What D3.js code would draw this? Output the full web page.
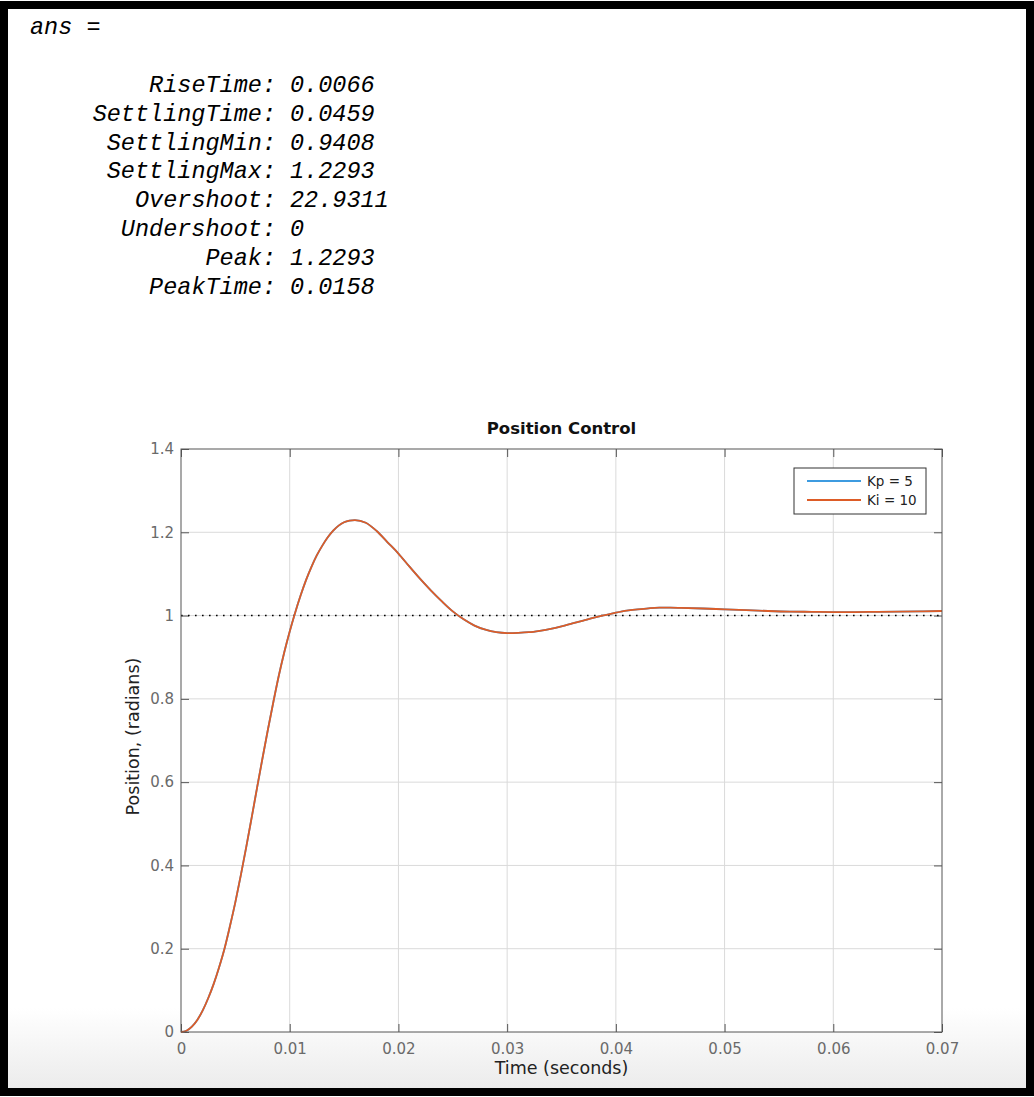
<!DOCTYPE html>
<html>
<head>
<meta charset="UTF-8">
<title>Position Control</title>
<script src="https://d3js.org/d3.v7.min.js"></script>
<style>
  body { margin: 0; background: #fff; }
  svg { display: block; }
</style>
</head>
<body>
<div id="chart"></div>
<script>
// step info printed above the plot
const infoNames = ["RiseTime", "SettlingTime", "SettlingMin", "SettlingMax",
                   "Overshoot", "Undershoot", "Peak", "PeakTime"];
const infoValues = ["0.0066", "0.0459", "0.9408", "1.2293",
                    "22.9311", "0", "1.2293", "0.0158"];

// step response
const time = [0, 0.0005, 0.001, 0.0015, 0.002, 0.0025, 0.003, 0.0035, 0.004, 0.0045,
  0.005, 0.0055, 0.006, 0.0065, 0.007, 0.0075, 0.008, 0.0085, 0.009, 0.0095,
  0.01, 0.0105, 0.011, 0.0115, 0.012, 0.0125, 0.013, 0.0135, 0.014, 0.0145,
  0.015, 0.0155, 0.016, 0.017, 0.018, 0.019, 0.02, 0.021, 0.022, 0.023,
  0.024, 0.025, 0.026, 0.027, 0.028, 0.029, 0.03, 0.031, 0.032, 0.033,
  0.034, 0.035, 0.036, 0.037, 0.038, 0.039, 0.04, 0.041, 0.042, 0.043,
  0.044, 0.045, 0.046, 0.048, 0.05, 0.052, 0.054, 0.056, 0.058, 0.06,
  0.062, 0.064, 0.066, 0.068, 0.07];
const position = [0, 0.003, 0.013, 0.029, 0.052, 0.081, 0.115, 0.155, 0.2, 0.254,
  0.312, 0.376, 0.444, 0.515, 0.587, 0.658, 0.727, 0.793, 0.856, 0.912,
  0.962, 1.007, 1.048, 1.085, 1.117, 1.145, 1.168, 1.188, 1.204, 1.216,
  1.224, 1.228, 1.2293, 1.223, 1.203, 1.176, 1.149, 1.118, 1.088, 1.06,
  1.034, 1.01, 0.991, 0.976, 0.966, 0.96, 0.958, 0.9585, 0.96, 0.9635,
  0.968, 0.974, 0.981, 0.988, 0.995, 1.001, 1.007, 1.012, 1.015, 1.0175,
  1.019, 1.019, 1.0185, 1.017, 1.015, 1.013, 1.011, 1.0095, 1.009, 1.0085,
  1.0085, 1.009, 1.0095, 1.01, 1.011];

const seriesNames = ["Kp = 5", "Ki = 10"];
const seriesColors = ["#3d9be0", "#dd5c27"];
const reference = 1;

const xTicks = [0, 0.01, 0.02, 0.03, 0.04, 0.05, 0.06, 0.07];
const yTicks = [0, 0.2, 0.4, 0.6, 0.8, 1, 1.2, 1.4];

const width = 1034, height = 1097;
const margin = { left: 181, right: 92, top: 449, bottom: 65 };
const innerW = width - margin.left - margin.right;
const innerH = height - margin.top - margin.bottom;

const svg = d3.select("#chart").append("svg")
  .attr("width", width)
  .attr("height", height);

// background: white page with faint grey band at the bottom
const defs = svg.append("defs");
const grad = defs.append("linearGradient").attr("id", "fade")
  .attr("x1", 0).attr("y1", 0).attr("x2", 0).attr("y2", 1);
grad.append("stop").attr("offset", 0).attr("stop-color", "#ffffff");
grad.append("stop").attr("offset", 1).attr("stop-color", "#ebebeb");

svg.append("rect").attr("width", width).attr("height", height).attr("fill", "#fff");
svg.append("rect").attr("x", 0).attr("y", 1008).attr("width", width).attr("height", 82)
  .attr("fill", "url(#fade)");

// black frame
svg.append("rect")
  .attr("x", 4).attr("y", 5).attr("width", 1026).attr("height", 1087)
  .attr("fill", "none").attr("stroke", "#000").attr("stroke-width", 8);

// console text
const mono = "'Liberation Mono', 'DejaVu Sans Mono', monospace";
svg.append("text")
  .attr("x", 30).attr("y", 34)
  .attr("font-family", mono).attr("font-style", "italic").attr("font-size", 23.5)
  .text("ans =");

const info = svg.append("g")
  .attr("font-family", mono).attr("font-style", "italic").attr("font-size", 23.5)
  .attr("fill", "#000");
infoNames.forEach((name, i) => {
  const y = 92 + i * 28.8;
  info.append("text").attr("x", 276).attr("y", y).attr("text-anchor", "end").text(name + ":");
  info.append("text").attr("x", 290).attr("y", y).text(infoValues[i]);
});

// plot
const x = d3.scaleLinear().domain([0, 0.07]).range([0, innerW]);
const y = d3.scaleLinear().domain([0, 1.4]).range([innerH, 0]);
const fmt = d => String(+d.toFixed(2));

const g = svg.append("g").attr("transform", `translate(${margin.left},${margin.top})`);

g.append("rect").attr("width", innerW).attr("height", innerH).attr("fill", "#fff");

// grid
g.append("g").selectAll("line").data(xTicks.slice(1, -1)).join("line")
  .attr("x1", d => x(d)).attr("x2", d => x(d))
  .attr("y1", 0).attr("y2", innerH)
  .attr("stroke", "#dadada").attr("stroke-width", 1);
g.append("g").selectAll("line").data(yTicks.slice(1, -1)).join("line")
  .attr("y1", d => y(d)).attr("y2", d => y(d))
  .attr("x1", 0).attr("x2", innerW)
  .attr("stroke", "#dadada").attr("stroke-width", 1);

// axes with inward ticks
const axisColor = "#555";
const sans = "'DejaVu Sans', 'Liberation Sans', sans-serif";

function styleAxis(sel) {
  sel.select(".domain").remove();
  sel.selectAll(".tick line").attr("stroke", axisColor);
  sel.selectAll(".tick text")
    .attr("fill", "#6a6a6a").attr("font-size", 15).attr("font-family", sans);
}

g.append("g").attr("transform", `translate(0,${innerH})`)
  .call(d3.axisBottom(x).tickValues(xTicks).tickFormat(fmt).tickSizeInner(-8).tickSizeOuter(0).tickPadding(11))
  .call(styleAxis);
g.append("g")
  .call(d3.axisTop(x).tickValues(xTicks).tickFormat("").tickSizeInner(-8).tickSizeOuter(0))
  .call(styleAxis);
g.append("g")
  .call(d3.axisLeft(y).tickValues(yTicks).tickFormat(fmt).tickSizeInner(-8).tickSizeOuter(0).tickPadding(7))
  .call(styleAxis);
g.append("g").attr("transform", `translate(${innerW},0)`)
  .call(d3.axisRight(y).tickValues(yTicks).tickFormat("").tickSizeInner(-8).tickSizeOuter(0))
  .call(styleAxis);

// reference line at 1
g.append("line")
  .attr("x1", x(0)).attr("x2", x(0.07))
  .attr("y1", y(reference)).attr("y2", y(reference))
  .attr("stroke", "#000").attr("stroke-width", 1.6)
  .attr("stroke-dasharray", "1.6,5.4");

// curves (both series overlap, Ki drawn on top)
const pts = time.map((t, i) => [t, position[i]]);
const line = d3.line().x(d => x(d[0])).y(d => y(d[1])).curve(d3.curveMonotoneX);
seriesColors.forEach(c => {
  g.append("path").datum(pts)
    .attr("d", line)
    .attr("fill", "none")
    .attr("stroke", c)
    .attr("stroke-width", 1.8);
});

// box
g.append("rect").attr("width", innerW).attr("height", innerH)
  .attr("fill", "none").attr("stroke", axisColor).attr("stroke-width", 1);

// title and labels
g.append("text")
  .attr("x", innerW / 2).attr("y", -15)
  .attr("text-anchor", "middle")
  .attr("font-family", sans).attr("font-weight", "bold").attr("font-size", 16.5)
  .attr("fill", "#111")
  .text("Position Control");

g.append("text")
  .attr("x", innerW / 2).attr("y", innerH + 42)
  .attr("text-anchor", "middle")
  .attr("font-family", sans).attr("font-size", 17.5)
  .attr("fill", "#222")
  .text("Time (seconds)");

g.append("text")
  .attr("transform", `translate(-42,${innerH / 2 - 4}) rotate(-90)`)
  .attr("text-anchor", "middle")
  .attr("font-family", sans).attr("font-size", 17.5)
  .attr("fill", "#222")
  .text("Position, (radians)");

// legend
const legend = g.append("g").attr("transform", `translate(${794 - margin.left},${468 - margin.top})`);
legend.append("rect").attr("width", 132).attr("height", 46)
  .attr("fill", "#fff").attr("stroke", "#333").attr("stroke-width", 1);
seriesNames.forEach((name, i) => {
  const ly = 13 + i * 19;
  legend.append("line")
    .attr("x1", 13).attr("x2", 67).attr("y1", ly).attr("y2", ly)
    .attr("stroke", seriesColors[i]).attr("stroke-width", 2.2);
  legend.append("text")
    .attr("x", 73).attr("y", ly + 4.5)
    .attr("font-family", sans).attr("font-size", 13.5)
    .attr("fill", "#222")
    .text(name);
});
</script>
</body>
</html>
